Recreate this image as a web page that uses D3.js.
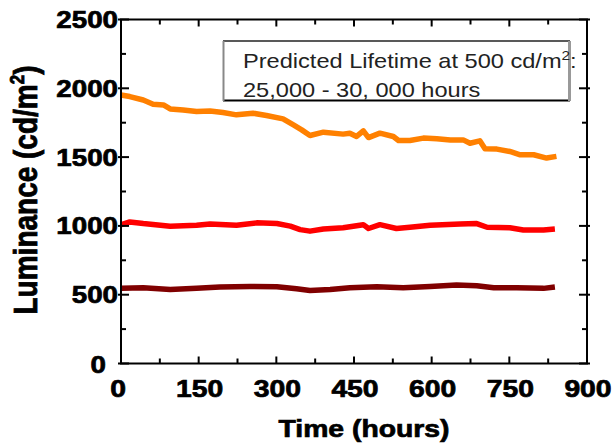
<!DOCTYPE html>
<html>
<head>
<meta charset="utf-8">
<script src="https://cdn.jsdelivr.net/npm/d3@7"></script>
<style>
  html, body { margin: 0; padding: 0; background: #fff; }
  svg { display: block; }
  text { font-family: "Liberation Sans", Arial, sans-serif; }
  .heavy { font-weight: bold; fill: #000; stroke: #000; stroke-width: 0.7px; }
</style>
</head>
<body>
<svg id="chart" width="616" height="447"></svg>
<script>
// Luminance decay of three OLED devices over time
const orangeHours = [0, 17, 43, 62, 82, 95, 120, 146, 172, 197, 223, 255, 281, 313, 333, 349, 365, 391, 429, 442, 455, 468, 478, 500, 526, 536, 558, 584, 610, 636, 661, 674, 693, 703, 726, 751, 771, 797, 822, 841];
const orangeLum   = [1951, 1940, 1915, 1884, 1879, 1850, 1843, 1831, 1835, 1824, 1807, 1819, 1802, 1778, 1734, 1698, 1657, 1681, 1667, 1674, 1650, 1691, 1642, 1674, 1650, 1621, 1621, 1638, 1633, 1625, 1625, 1601, 1618, 1560, 1558, 1541, 1517, 1517, 1493, 1505];

const redHours = [1, 17, 43, 95, 146, 172, 223, 262, 301, 327, 346, 365, 391, 429, 468, 478, 500, 532, 558, 597, 655, 687, 707, 751, 777, 816, 838];
const redLum   = [1009, 1029, 1017, 998, 1005, 1014, 1005, 1022, 1017, 998, 973, 962, 978, 986, 1009, 981, 1009, 981, 990, 1005, 1014, 1017, 990, 986, 970, 970, 978];

const darkHours = [1, 43, 95, 146, 191, 249, 301, 339, 365, 404, 442, 494, 545, 597, 648, 687, 720, 764, 816, 838];
const darkLum   = [546, 551, 538, 546, 556, 560, 558, 543, 531, 538, 551, 558, 551, 560, 570, 565, 551, 551, 546, 556];

const seriesColors = ["#FF8000", "#FF0000", "#800000"];

const xTicks = [0, 150, 300, 450, 600, 750, 900];
const xMinorTicks = [75, 225, 375, 525, 675, 825];
const yTicks = [0, 500, 1000, 1500, 2000, 2500];
const yMinorTicks = [250, 750, 1250, 1750, 2250];

const xTitle = "Time (hours)";
const noteLine1 = "Predicted Lifetime at 500 cd/m";
const noteLine2 = "25,000 - 30, 000 hours";

const svg = d3.select("#chart");
const plotLeft = 121, plotRight = 587, plotTop = 19.5, plotBottom = 363.5;
const wide = 1.18; // horizontal stretch applied to all lettering

const x = d3.scaleLinear().domain([0, 900]).range([plotLeft, plotRight]);
const y = d3.scaleLinear().domain([0, 2500]).range([plotBottom, plotTop]);

// data lines
const series = [
  { hours: orangeHours, lum: orangeLum, color: seriesColors[0] },
  { hours: redHours, lum: redLum, color: seriesColors[1] },
  { hours: darkHours, lum: darkLum, color: seriesColors[2] }
];
const line = d3.line().x(d => x(d[0])).y(d => y(d[1]));
series.forEach(s => {
  svg.append("path")
    .datum(s.hours.map((h, i) => [h, s.lum[i]]))
    .attr("fill", "none")
    .attr("stroke", s.color)
    .attr("stroke-width", 5.5)
    .attr("stroke-linejoin", "round")
    .attr("d", line);
});

// frame
svg.append("rect")
  .attr("x", plotLeft).attr("y", plotTop)
  .attr("width", plotRight - plotLeft).attr("height", plotBottom - plotTop)
  .attr("fill", "none").attr("stroke", "#000").attr("stroke-width", 2);

// y ticks, left and right
const ticks = svg.append("g").attr("stroke", "#000").attr("stroke-width", 2);
yTicks.forEach(v => {
  ticks.append("line").attr("x1", plotLeft - 3).attr("x2", plotLeft + 8).attr("y1", y(v)).attr("y2", y(v));
  ticks.append("line").attr("x1", plotRight - 8).attr("x2", plotRight + 3).attr("y1", y(v)).attr("y2", y(v));
});
yMinorTicks.forEach(v => {
  ticks.append("line").attr("x1", plotLeft).attr("x2", plotLeft + 5).attr("y1", y(v)).attr("y2", y(v));
  ticks.append("line").attr("x1", plotRight - 5).attr("x2", plotRight).attr("y1", y(v)).attr("y2", y(v));
});
// x ticks, bottom and top
xTicks.concat(xMinorTicks).forEach(v => {
  const len = xTicks.includes(v) ? 7 : 5;
  ticks.append("line").attr("x1", x(v)).attr("x2", x(v)).attr("y1", plotBottom).attr("y2", plotBottom - len);
  ticks.append("line").attr("x1", x(v)).attr("x2", x(v)).attr("y1", plotTop).attr("y2", plotTop + len);
});

// tick labels
svg.append("g").selectAll("text").data(yTicks).join("text")
  .attr("class", "heavy")
  .attr("transform", d => d === 0
    ? `translate(${plotLeft - 15},${y(d) + 9.5}) scale(${wide},1)`
    : `translate(${plotLeft - 3},${y(d) + 8.5}) scale(${wide},1)`)
  .attr("text-anchor", "end")
  .attr("font-size", 23.5)
  .text(d => d);

svg.append("g").selectAll("text").data(xTicks).join("text")
  .attr("class", "heavy")
  .attr("transform", d => `translate(${d === 0 ? x(d) - 3 : x(d) + 1},${plotBottom + 33}) scale(${wide},1)`)
  .attr("text-anchor", "middle")
  .attr("font-size", 24)
  .text(d => d);

// axis titles
svg.append("text")
  .attr("class", "heavy")
  .attr("transform", `translate(364,437) scale(${wide},1)`)
  .attr("text-anchor", "middle")
  .attr("font-size", 24)
  .text(xTitle);

const yTitle = svg.append("text")
  .attr("class", "heavy")
  .attr("transform", `translate(37,190) scale(${wide},1) rotate(-90)`)
  .attr("text-anchor", "middle")
  .attr("font-size", 28);
yTitle.append("tspan").text("Luminance (cd/m");
yTitle.append("tspan").attr("font-size", 17).attr("dy", -11).text("2");
yTitle.append("tspan").attr("dy", 11).text(")");

// annotation box
const box = svg.append("g");
box.append("line").attr("x1", 223).attr("x2", 570).attr("y1", 41).attr("y2", 41).attr("stroke", "#222").attr("stroke-width", 1.5);
box.append("line").attr("x1", 223).attr("x2", 570).attr("y1", 100.5).attr("y2", 100.5).attr("stroke", "#000").attr("stroke-width", 2);
box.append("line").attr("x1", 223.5).attr("x2", 223.5).attr("y1", 41).attr("y2", 101).attr("stroke", "#888").attr("stroke-width", 2);
box.append("line").attr("x1", 569.5).attr("x2", 569.5).attr("y1", 41).attr("y2", 101).attr("stroke", "#999").attr("stroke-width", 3);

const note1 = box.append("text")
  .attr("transform", `translate(243,68) scale(${wide},1)`)
  .attr("font-size", 20).attr("fill", "#222");
note1.append("tspan").text(noteLine1);
note1.append("tspan").attr("font-size", 13).attr("dy", -8).text("2");
note1.append("tspan").attr("dy", 8).text(":");
box.append("text")
  .attr("transform", `translate(243,97) scale(${wide},1)`)
  .attr("font-size", 20).attr("fill", "#222")
  .text(noteLine2);
</script>
</body>
</html>
